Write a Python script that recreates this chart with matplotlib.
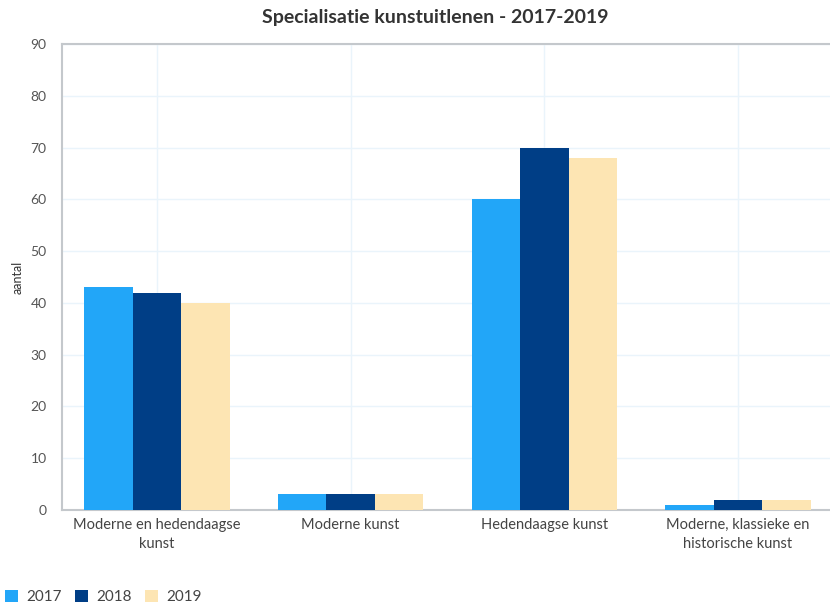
import matplotlib
matplotlib.use("Agg")
import matplotlib.pyplot as plt
import numpy as np

categories = ["Moderne en hedendaagse\nkunst", "Moderne kunst", "Hedendaagse kunst",
              "Moderne, klassieke en\nhistorische kunst"]
years = ["2017", "2018", "2019"]
v2017 = [43, 3, 60, 1]
v2018 = [42, 3, 70, 2]
v2019 = [40, 3, 68, 2]
yticks = [0, 10, 20, 30, 40, 50, 60, 70, 80, 90]

colors = ["#22a6f8", "#003e86", "#fde5b3"]
plt.rcParams['font.family'] = ['Lato', 'DejaVu Sans']

fig = plt.figure(figsize=(8.30, 6.13), dpi=100)
ax = fig.add_axes([62/830, 1-510/613, 768/830, (510-44)/613])

x = np.arange(len(categories))
w = 0.25
series = [v2017, v2018, v2019]
for i, (vals, c, lab) in enumerate(zip(series, colors, years)):
    ax.bar(x + (i-1)*w, vals, width=w, color=c, label=lab, zorder=3, linewidth=0)

ax.set_xlim(-0.49, 3.475)
ax.set_ylim(0, 90)
ax.set_yticks(yticks)
ax.set_xticks(x)
ax.set_xticklabels(categories, fontsize=10.5, color="#444444", linespacing=1.45)
ax.tick_params(axis='y', labelsize=10, labelcolor="#555555", length=0, pad=11)
ax.tick_params(axis='x', length=0, pad=6)
ax.grid(True, color="#eaf4fb", linewidth=1, zorder=0)
for s in ["left", "bottom", "top"]:
    ax.spines[s].set_color("#c4c8cc")
    ax.spines[s].set_linewidth(1.5)
ax.spines["right"].set_visible(False)
ax.set_ylabel("aantal", fontsize=9, color="#333333")
ax.yaxis.set_label_coords(-(62-24)/768, 0.5)

fig.text(435/830, 1-18/613, "Specialisatie kunstuitlenen - 2017-2019", ha="center", va="center",
         fontsize=14, fontweight="bold", color="#333333")

fig.legend(loc="lower left", bbox_to_anchor=(-0.01, -0.008), ncol=3, frameon=False,
           fontsize=11, handlelength=0.85, handleheight=0.85, handletextpad=0.5,
           columnspacing=0.9, labelcolor="#444444")

fig.savefig("out.png", dpi=100, facecolor="white")
